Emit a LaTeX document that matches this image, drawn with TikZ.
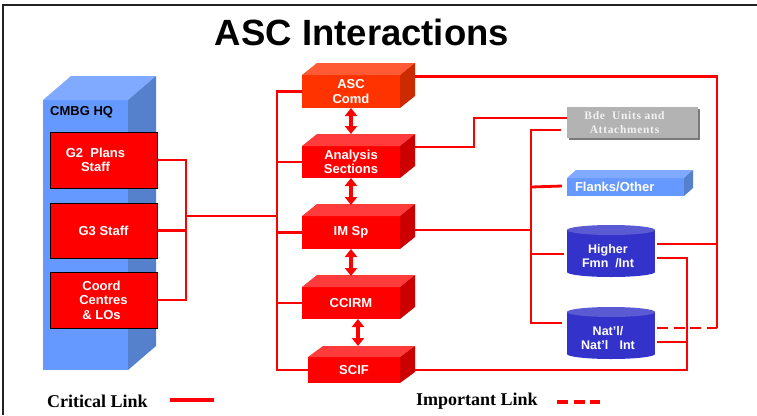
\documentclass[tikz,border=0pt]{standalone}
\usepackage{fontspec}
\setmainfont{Liberation Serif}
\setsansfont{Liberation Sans}
\usetikzlibrary{arrows.meta,calc}

\definecolor{linkred}{HTML}{FF0000}
\definecolor{redfront}{HTML}{FF0000}
\definecolor{redtop}{HTML}{FF3B3B}
\definecolor{redside}{HTML}{CC0000}
\definecolor{ascfront}{HTML}{FF3300}
\definecolor{asctop}{HTML}{FF5A33}
\definecolor{ascside}{HTML}{CC2A00}
\definecolor{hqfront}{HTML}{6699FF}
\definecolor{hqtop}{HTML}{80AAFF}
\definecolor{hqside}{HTML}{5580CC}
\definecolor{cylbody}{HTML}{3333CC}
\definecolor{cyltop}{HTML}{5A5AD2}
\definecolor{bdefill}{HTML}{B3B3B3}
\definecolor{bdeshade}{HTML}{7A7A7A}
\definecolor{bdetext}{HTML}{F2F2F2}
\definecolor{framegray}{HTML}{222222}

\pgfdeclarelayer{paper}
\pgfdeclarelayer{links}
\pgfsetlayers{paper,links,main}

% top and side faces of a box whose front face is node #1
\newcommand\drawfaces[5]{%
  \fill[#4] (#1.north west) -- ++(#2,#3) -- ([shift={(#2,#3)}]#1.north east) -- (#1.north east) -- cycle;
  \fill[#5] (#1.north east) -- ++(#2,#3) -- ([shift={(#2,#3)}]#1.south east) -- (#1.south east) -- cycle;}

% cylinder body and lid around node #1 (the node is the face below the lid)
\newcommand\drawcyl[1]{%
  \fill[cylbody] ([shift={(0,-5)}]#1.north west) rectangle ([shift={(0,-5)}]#1.south east);
  \fill[cylbody] ([shift={(0,-5)}]#1.south) ellipse [x radius=44pt, y radius=5pt];
  \fill[cyltop] ([shift={(0,-5)}]#1.north) ellipse [x radius=44pt, y radius=5pt];}

\tikzset{
  boxtext/.style={font=\sffamily\bfseries\fontsize{13}{14.5}\selectfont, text=white, align=center},
  cube/.style={boxtext, inner sep=0pt, outer sep=0pt, minimum width=98pt},
  staffbox/.style={boxtext, fill=redfront, draw=black, line width=0.9pt, inner sep=0pt,
    outer sep=0pt, minimum width=107pt, minimum height=56pt},
  cylnode/.style={font=\sffamily\bfseries\fontsize{12.5}{14.5}\selectfont, text=white, align=center,
    inner sep=0pt, outer sep=0pt, minimum width=88pt, minimum height=42pt},
  link/.style={draw=linkred, line width=2.8pt},
  weaklink/.style={link, dash pattern=on 11pt off 5.5pt},
  dbl/.style={draw=linkred, line width=3.6pt, {Triangle[width=12pt,length=8pt]}-{Triangle[width=12pt,length=8pt]}},
  legend/.style={font=\bfseries\fontsize{18}{20}\selectfont, text=black, anchor=west, inner sep=0pt}
}

\begin{document}
\begin{tikzpicture}[x=1pt,y=-1pt]
\useasboundingbox (0,0) rectangle (757,415);
\begin{pgfonlayer}{paper}
  \fill[white] (0,0) rectangle (757,415);
\end{pgfonlayer}

% frame
\coordinate (fa) at (3,415);
\coordinate (fb) at (3,5);
\coordinate (fc) at (757,5);
\draw[framegray, line width=1.8pt] (fa) -- (fb) -- (fc);

% title
\node[font=\sffamily\bfseries\fontsize{36.5}{40}\selectfont] (title) at (362,32) {ASC Interactions};

% CMBG HQ column
\node[fill=hqfront, inner sep=0pt, outer sep=0pt, minimum width=85pt, minimum height=270pt] (hq) at (85.5,235) {};
\drawfaces{hq}{28}{-24}{hqtop}{hqside}
\node[anchor=west, inner sep=0pt, font=\sffamily\bfseries\fontsize{13}{14}\selectfont] (hqlabel) at (50,112) {CMBG HQ};
\node[staffbox] (g2) at (103.5,160) {G2\ \ Plans\hspace*{16pt}\\Staff\hspace*{16pt}};
\node[staffbox, minimum height=55pt] (g3) at (103.5,230.5) {G3 Staff};
\node[staffbox] (lo) at (103.5,300) {Coord\hspace*{4pt}\\Centres\\\&\ LOs\hspace*{4pt}};

% ASC elements
\node[cube, fill=ascfront, minimum height=33pt] (asc) at (351,91.5) {ASC\\Comd};
\drawfaces{asc}{15}{-12}{asctop}{ascside}
\node[cube, fill=redfront, minimum height=32pt] (ana) at (351,162) {Analysis\\Sections};
\drawfaces{ana}{15}{-12}{redtop}{redside}
\node[cube, fill=redfront, minimum height=33pt] (ims) at (351,232.5) {IM Sp};
\drawfaces{ims}{15}{-12}{redtop}{redside}
\node[cube, fill=redfront, minimum height=32pt] (cc) at (351,303) {CCIRM};
\drawfaces{cc}{15}{-12}{redtop}{redside}
\node[cube, fill=redfront, minimum width=92pt, minimum height=26pt] (scif) at (354,370) {SCIF};
\drawfaces{scif}{15}{-11}{redtop}{redside}

% links between the ASC elements
\draw[dbl] (asc.south) -- ([shift={(0,-12)}]ana.north);
\draw[dbl] (ana.south) -- ([shift={(0,-11)}]ims.north);
\draw[dbl] (ims.south) -- ([shift={(0,-11)}]cc.north);
\draw[dbl] ([shift={(7,0)}]cc.south) -- ([shift={(4,-11)}]scif.north);

% external parties
\fill[bdeshade] (569,109) rectangle (700,140);
\node[fill=bdefill, inner sep=0pt, outer sep=0pt, minimum width=131pt, minimum height=31pt,
  text=bdetext, align=center, font=\bfseries\fontsize{11.5}{14}\selectfont\addfontfeatures{LetterSpace=6}] (bde) at (632.5,122.5)
  {Bde\ \ Units and\hspace*{16pt}\\Attachments\hspace*{16pt}};

\node[fill=hqfront, inner xsep=8pt, inner ysep=0pt, outer sep=0pt, text width=101pt, align=left,
  minimum height=18pt, text=white, font=\sffamily\bfseries\fontsize{13}{14}\selectfont] (flk) at (625.5,187) {Flanks/Other};
\drawfaces{flk}{9}{-8}{hqtop}{hqside}

\node[cylnode] (hi) at (611,256) {};
\drawcyl{hi}
\node[cylnode] (hitext) at ([shift={(-3,0)}]hi.center) {Higher\\Fmn\hspace{0.55em}/Int};

\node[cylnode] (nat) at (611,338) {};
\drawcyl{nat}
\node[cylnode] (nattext) at ([shift={(-3,0)}]nat.center) {Nat’l/\\Nat’l\hspace{0.9em}Int};

% connectors
\coordinate (ja) at (186,216);
\coordinate (jb) at (277,216);
\coordinate (jc) at (474,118);
\coordinate (jd) at (531,230);
\coordinate (je) at (717,328);
\coordinate (jf) at (687,370);
\begin{pgfonlayer}{links}
  \draw[link] (g2.east) -| (ja) |- (lo.east);
  \draw[link] (g3.east) -- (g3.east -| ja);
  \draw[link] (ja) -- (jb);
  \draw[link] (asc.west) -| (jb |- scif.west) -- (scif.west);
  \draw[link] (ana.west) -- (ana.west -| jb);
  \draw[link] (ims.west) -- (ims.west -| jb);
  \draw[link] (cc.west) -- (cc.west -| jb);
  \draw[link] ([shift={(15,-15)}]asc.east) -| (je);
  \draw[link] ([shift={(15,-15)}]ana.east) -| (jc) -- (bde.west |- jc);
  \draw[link] ([shift={(10,-2.5)}]ims.east) -- (jd);
  \draw[link] ([shift={(-6,7.5)}]bde.west) -| (jd) |- ([shift={(-5,-15)}]nat.west);
  \draw[link] ([shift={(-5,-1)}]flk.west) -- (flk.west -| jd);
  \draw[link] ([shift={(-3,-2)}]hi.west) -- ([shift={(0,-2)}]hi.west -| jd);
  \draw[link] ([shift={(2,9)}]hi.north east) -- ([shift={(0,9)}]hi.north east -| je);
  \draw[link] ([shift={(2,2)}]hi.east) -| (jf) -- (scif.east |- jf);
  \draw[link] ([shift={(2,4)}]nat.east) -- ([shift={(0,4)}]nat.east -| jf);
  \draw[weaklink] ([shift={(2,-10)}]nat.east) -- (je);
\end{pgfonlayer}

% legend
\node[legend] (crit) at (47,401) {Critical Link};
\coordinate (ca) at (170,400);
\coordinate (cb) at (214,400);
\draw[link, line width=3.2pt] (ca) -- (cb);
\node[legend] (imp) at (416,401) {Important Link};
\coordinate (ia) at (557,402);
\coordinate (ib) at (600,402);
\draw[weaklink, line width=3.2pt] (ia) -- (ib);
\end{tikzpicture}
\end{document}
